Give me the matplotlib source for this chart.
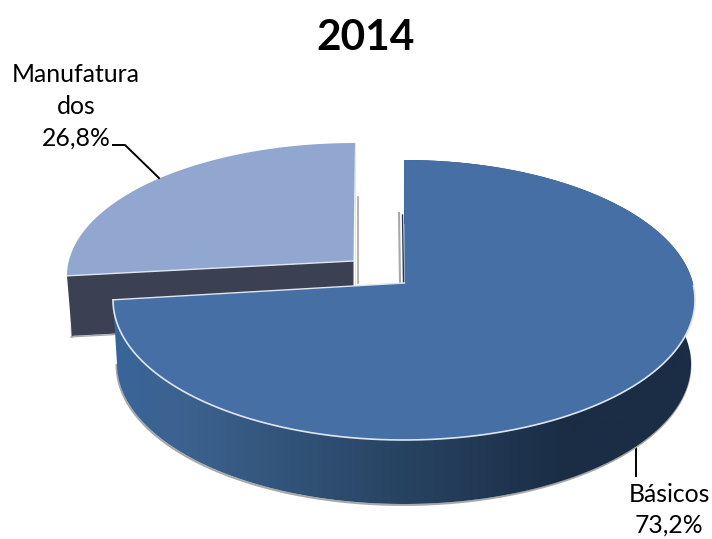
import numpy as np
import matplotlib
matplotlib.use('Agg')
import matplotlib.pyplot as plt
from matplotlib.colors import LinearSegmentedColormap
from matplotlib.patches import Polygon

title = '2014'
labels = ['Básicos', 'Manufaturados']
shares = [73.2, 26.8]

plt.rcParams['font.family'] = ['Lato', 'DejaVu Sans']

BLUE = '#4670a5'
LIGHT = '#92a7cf'
SLATE = '#3b4052'
EDGE = '#dfe6ef'
SHADOW = '#a8a8a8'
TILT = 0.114  # how far the apex sits above the ellipse centre (perspective)


def rim(theta, cx, cy, rx, ry):
    # angle clockwise from 12 o'clock -> pixel on the perspective ellipse
    u, v = np.sin(theta), np.cos(theta)
    d = 1 + TILT * v
    return cx + rx * u * np.sqrt(1 - TILT ** 2) / d, cy - ry * (v + TILT) / d


fig = plt.figure(figsize=(7.12, 5.39), dpi=100)
ax = fig.add_axes([0, 0, 1, 1])
ax.set_xlim(0, 712)
ax.set_ylim(539, 0)
ax.axis('off')

split = 2 * np.pi * shares[0] / sum(shares)

# --- small slice (pulled out) ---
t = np.linspace(split, 2 * np.pi, 120)
x, y = rim(t, 355, 276, 288, 133)
tip = (x[0], y[0])
apex2 = (353.5, 261)

ax.plot([358, 358], [197, 283], color=SHADOW, lw=1.2, zorder=1)
ax.plot([tip[0] + 4, tip[0] + 5], [tip[1] + 5, tip[1] + 61], color=SHADOW, lw=1.5, zorder=1)
ax.add_patch(Polygon([tip, apex2, (apex2[0], apex2[1] + 60), (tip[0] + 5, tip[1] + 60)],
                     fc=SLATE, ec='none', zorder=2))
ax.plot([tip[0] + 4, tip[0] + 60], [tip[1] + 61, tip[1] + 58], color=SHADOW, lw=1, zorder=1)
ax.add_patch(Polygon(list(zip(x, y)) + [apex2], fc=LIGHT, ec='none', zorder=3))
ax.plot([tip[0], apex2[0]], [tip[1], apex2[1]], color=EDGE, lw=1, zorder=4)
ax.plot([apex2[0] + 1, apex2[0] + 1], [143, 284], color=EDGE, lw=0.8, zorder=4)

# --- big slice: side wall with gradient ---
t = np.linspace(0, split, 300)
top_x, top_y = rim(t, 404, 300, 291, 140)
low_x, low_y = rim(t, 404, 364, 287, 140)
apex1 = (404.5, 283)
vis = t > np.pi / 2  # part of the rim facing the viewer

ax.plot(low_x[vis] - 0.5, low_y[vis] + 1, color=SHADOW, lw=1.4, zorder=5)
wall = Polygon(list(zip(top_x, top_y)) + list(zip(low_x[::-1], low_y[::-1])),
               fc='none', ec='none', zorder=6)
ax.add_patch(wall)
side_cmap = LinearSegmentedColormap.from_list(
    'side', [(0, '#39659a'), (0.12, '#3c628f'), (0.45, '#2a4767'), (0.78, '#1a2d45'), (1, '#1a2d45')])
img = ax.imshow(np.linspace(0, 1, 256).reshape(1, -1), cmap=side_cmap, aspect='auto',
                extent=(113, 695, 539, 0), zorder=6)
img.set_clip_path(wall)
ax.set_xlim(0, 712)
ax.set_ylim(539, 0)

# --- big slice: top face ---
ax.plot([399, 400], [213, 282], color=SHADOW, lw=1.5, zorder=5)
ax.plot([402.5, 403.5], [215, 282], color='#26354a', lw=1, zorder=7)
ax.add_patch(Polygon(list(zip(top_x, top_y)) + [apex1], fc=BLUE, ec='none', zorder=8))
ax.plot(top_x[vis], top_y[vis], color=EDGE, lw=1.2, zorder=9)
ax.plot([top_x[-1], apex1[0]], [top_y[-1], apex1[1]], color=EDGE, lw=1, zorder=9)

# --- leader lines ---
ax.plot([113, 125, 159], [145, 145, 178], color='black', lw=1.4, zorder=10)
ax.plot([636, 636], [445, 476], color='black', lw=1.4, zorder=4)

# --- text ---
ax.text(366, 38, title, fontsize=30.5, fontweight='bold', ha='center', va='center')
ax.text(76, 75, labels[1][:10], fontsize=17.8, ha='center', va='center')
ax.text(76, 107, labels[1][10:], fontsize=17.8, ha='center', va='center')
ax.text(76, 138, f'{shares[1]:.1f}%'.replace('.', ','), fontsize=17.8, ha='center', va='center')
ax.text(669, 495, labels[0], fontsize=17.8, ha='center', va='center')
ax.text(669, 525, f'{shares[0]:.1f}%'.replace('.', ','), fontsize=17.8, ha='center', va='center')

fig.savefig('out.png', dpi=100)
